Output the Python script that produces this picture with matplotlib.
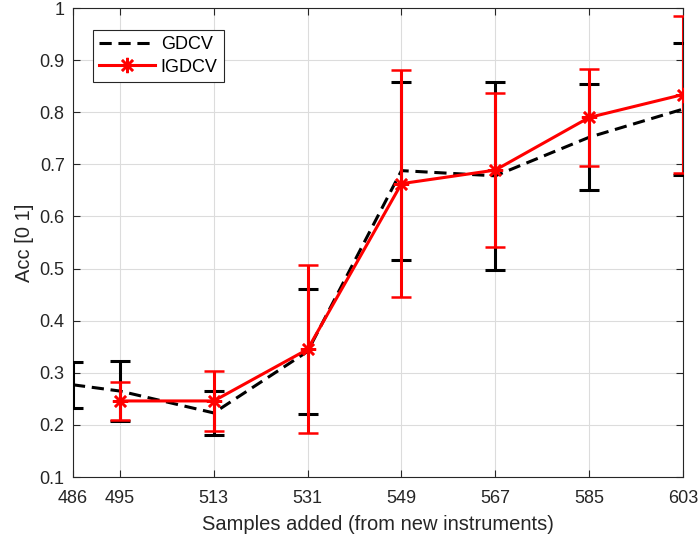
import numpy as np
import matplotlib.pyplot as plt

plt.rcParams['font.family'] = ['Liberation Sans', 'DejaVu Sans']

# GDCV (black dashed)
x_gdcv = [486, 495, 513, 531, 549, 567, 585, 603]
acc_gdcv = [0.277, 0.265, 0.223, 0.341, 0.688, 0.678, 0.752, 0.806]
err_gdcv = [0.044, 0.058, 0.042, 0.120, 0.171, 0.180, 0.102, 0.127]

# IGDCV (red, asterisks)
x_igdcv = [495, 513, 531, 549, 567, 585, 603]
acc_igdcv = [0.246, 0.246, 0.345, 0.663, 0.689, 0.790, 0.834]
err_igdcv = [0.036, 0.058, 0.161, 0.218, 0.148, 0.093, 0.150]

xticks = [486, 495, 513, 531, 549, 567, 585, 603]
yticks = [0.1, 0.2, 0.3, 0.4, 0.5, 0.6, 0.7, 0.8, 0.9, 1.0]
ytick_labels = ['0.1', '0.2', '0.3', '0.4', '0.5', '0.6', '0.7', '0.8', '0.9', '1']

fig = plt.figure(figsize=(6.99, 5.43), dpi=100)
ax = fig.add_axes([0.1044, 0.1215, 0.8727, 0.8637])

eb1 = ax.errorbar(x_gdcv, acc_gdcv, yerr=err_gdcv, color='black', linestyle='--',
                  linewidth=2.2, elinewidth=2.2, capsize=7, capthick=2.2,
                  dashes=(4, 2.2), zorder=3)
eb2 = ax.errorbar(x_igdcv, acc_igdcv, yerr=err_igdcv, color='red', linestyle='-',
                  linewidth=2.2, elinewidth=2.2, capsize=7, capthick=2.2,
                  marker=(8, 2, 0), markersize=11, markeredgewidth=1.8,
                  zorder=4)

# keep caps inside the axes box, like the original
for eb in (eb1, eb2):
    for art in list(eb.lines[1]) + list(eb.lines[2]):
        art.set_clip_on(True)
        art.set_clip_box(ax.bbox)

ax.set_xlim(486, 603)
ax.set_ylim(0.1, 1.0)
ax.set_xticks(xticks)
ax.set_yticks(yticks)
ax.set_yticklabels(ytick_labels)
ax.tick_params(direction='in', top=True, right=True, labelsize=13,
               length=5, width=0.8, colors='#262626')
ax.tick_params(axis='x', pad=9)
ax.tick_params(axis='y', pad=6)
ax.grid(True, color='#dcdcdc', linewidth=0.8)
ax.set_axisbelow(True)
for s in ax.spines.values():
    s.set_color('#262626')
    s.set_linewidth(0.8)

ax.set_xlabel('Samples added (from new instruments)', fontsize=14.5,
              color='#262626', labelpad=6)
ax.set_ylabel('Acc [0 1]', fontsize=14.5, color='#262626', labelpad=4)

leg = ax.legend([eb1.lines[0], eb2.lines[0]], ['GDCV', 'IGDCV'],
                loc='upper left', bbox_to_anchor=(0.033, 0.953), fontsize=13,
                frameon=True, fancybox=False, edgecolor='#262626',
                framealpha=1, handlelength=3.1, borderpad=0.35,
                labelspacing=0.3, handletextpad=0.3, borderaxespad=0)
leg.get_frame().set_linewidth(0.8)

fig.savefig('out.png', dpi=100)
